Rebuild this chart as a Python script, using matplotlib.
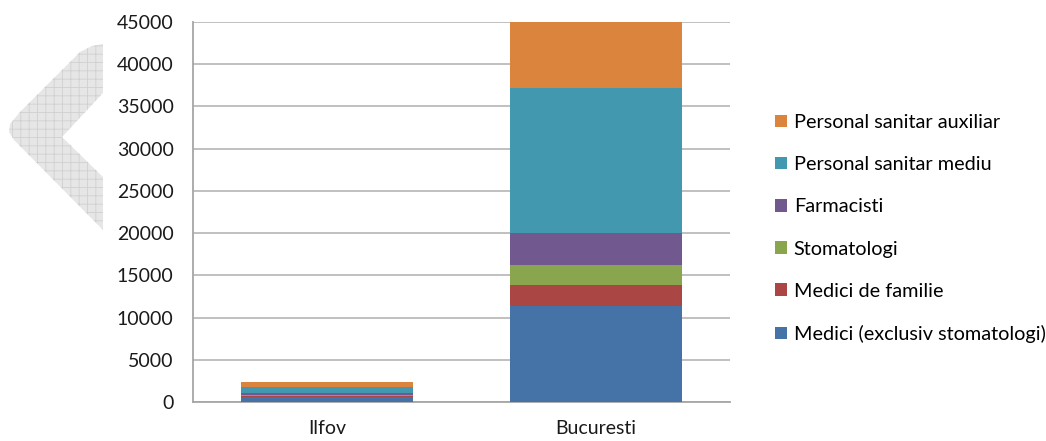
import numpy as np
import matplotlib.pyplot as plt
from matplotlib.patches import Polygon

plt.rcParams['font.family'] = ['Lato', 'DejaVu Sans']
plt.rcParams['hatch.linewidth'] = 0.6

judete = ['Ilfov', 'Bucuresti']
categorii = ['Medici (exclusiv stomatologi)', 'Medici de familie', 'Stomatologi',
             'Farmacisti', 'Personal sanitar mediu', 'Personal sanitar auxiliar']
medici = [550, 11370]
medici_familie = [200, 2450]
stomatologi = [120, 2370]
farmacisti = [180, 3780]
sanitar_mediu = [750, 17250]
sanitar_auxiliar = [600, 7800]
culori = ['#4573a7', '#aa4744', '#89a54e', '#71588f', '#4298af', '#db843d']
yticks = list(range(0, 45001, 5000))

serii = [medici, medici_familie, stomatologi, farmacisti, sanitar_mediu, sanitar_auxiliar]

fig = plt.figure(figsize=(10.46, 4.41), dpi=100)

# watermark chevron in the background (figure coords, pixels)
W, H = 1046.0, 441.0
pts = [(103, 44), (92, 46), (80, 52), (20, 112), (10, 124), (9, 132), (14, 140),
       (103, 230), (103, 177), (62, 137), (103, 93)]
poly = Polygon([(x / W, 1 - y / H) for x, y in pts], closed=True,
               transform=fig.transFigure, facecolor='#e6e6e6', edgecolor='#d0d0d0',
               hatch='++', linewidth=0, zorder=0)
fig.patches.append(poly)

ax = fig.add_axes([193 / W, 1 - 402 / H, (730 - 193) / W, 380 / H])
ax.patch.set_alpha(0)

x = np.arange(len(judete))
bottom = np.zeros(len(judete))
handles = []
for vals, nume, c in zip(serii, categorii, culori):
    b = ax.bar(x, vals, 0.64, bottom=bottom, color=c, label=nume, zorder=3)
    handles.append(b)
    bottom += np.array(vals)

ax.set_xlim(-0.5, 1.5)
ax.set_ylim(0, 45000)
ax.set_yticks(yticks)
ax.set_yticklabels([str(t) for t in yticks])
ax.set_xticks(x)
ax.set_xticklabels(judete)
ax.grid(axis='y', color='#b5b5b5', linewidth=1.2, zorder=0)
ax.tick_params(axis='y', length=0, pad=14, labelsize=14, labelcolor='#1a1a1a')
ax.tick_params(axis='x', length=0, pad=13, labelsize=14, labelcolor='#1a1a1a')
for s in ['top', 'right']:
    ax.spines[s].set_visible(False)
for s in ['left', 'bottom']:
    ax.spines[s].set_color('#a6a6a6')
    ax.spines[s].set_linewidth(1.3)

leg = fig.legend(handles[::-1], categorii[::-1], loc='upper left',
                 bbox_to_anchor=(757 / W, 1 - 96 / H), frameon=False,
                 fontsize=14.3, handlelength=0.6, handleheight=0.6,
                 handletextpad=0.35, labelspacing=1.27)

fig.savefig('out.png', dpi=100)
